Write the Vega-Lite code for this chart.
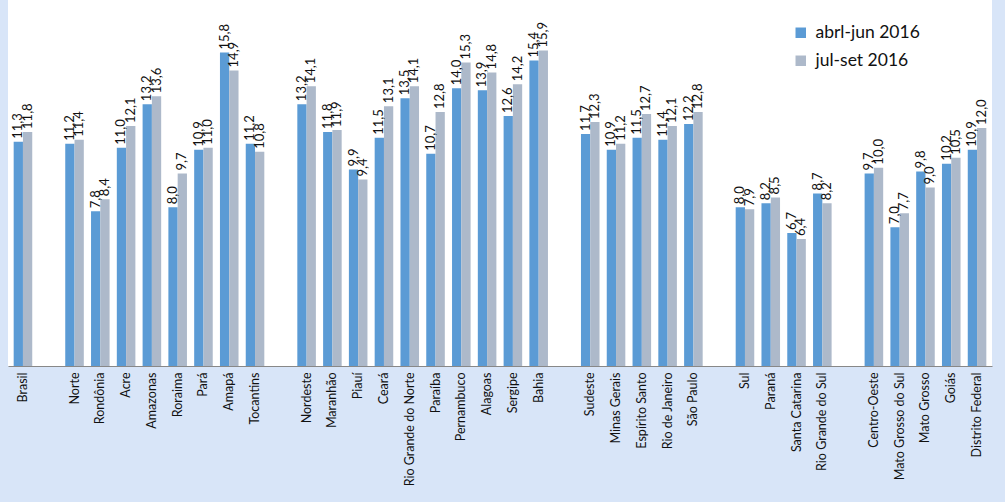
{
  "$schema": "https://vega.github.io/schema/vega-lite/v6.json",
  "width": 984,
  "height": 366,
  "autosize": {"type": "none"},
  "padding": {"left": 8, "top": 0, "right": 13, "bottom": 136},
  "background": "#d8e5f8",
  "config": {
    "view": {"fill": "#ffffff", "stroke": null},
    "locale": {"number": {"decimal": ",", "thousands": ".", "grouping": [3], "currency": ["R$", ""]}},
    "font": "Lato"
  },
  "data": {
    "values": [
      {"local": "Brasil", "periodo": "abrl-jun 2016", "taxa": 11.3},
      {"local": "Brasil", "periodo": "jul-set 2016", "taxa": 11.8},
      {"local": "Norte", "periodo": "abrl-jun 2016", "taxa": 11.2},
      {"local": "Norte", "periodo": "jul-set 2016", "taxa": 11.4},
      {"local": "Rondônia", "periodo": "abrl-jun 2016", "taxa": 7.8},
      {"local": "Rondônia", "periodo": "jul-set 2016", "taxa": 8.4},
      {"local": "Acre", "periodo": "abrl-jun 2016", "taxa": 11.0},
      {"local": "Acre", "periodo": "jul-set 2016", "taxa": 12.1},
      {"local": "Amazonas", "periodo": "abrl-jun 2016", "taxa": 13.2},
      {"local": "Amazonas", "periodo": "jul-set 2016", "taxa": 13.6},
      {"local": "Roraima", "periodo": "abrl-jun 2016", "taxa": 8.0},
      {"local": "Roraima", "periodo": "jul-set 2016", "taxa": 9.7},
      {"local": "Pará", "periodo": "abrl-jun 2016", "taxa": 10.9},
      {"local": "Pará", "periodo": "jul-set 2016", "taxa": 11.0},
      {"local": "Amapá", "periodo": "abrl-jun 2016", "taxa": 15.8},
      {"local": "Amapá", "periodo": "jul-set 2016", "taxa": 14.9},
      {"local": "Tocantins", "periodo": "abrl-jun 2016", "taxa": 11.2},
      {"local": "Tocantins", "periodo": "jul-set 2016", "taxa": 10.8},
      {"local": "Nordeste", "periodo": "abrl-jun 2016", "taxa": 13.2},
      {"local": "Nordeste", "periodo": "jul-set 2016", "taxa": 14.1},
      {"local": "Maranhão", "periodo": "abrl-jun 2016", "taxa": 11.8},
      {"local": "Maranhão", "periodo": "jul-set 2016", "taxa": 11.9},
      {"local": "Piauí", "periodo": "abrl-jun 2016", "taxa": 9.9},
      {"local": "Piauí", "periodo": "jul-set 2016", "taxa": 9.4},
      {"local": "Ceará", "periodo": "abrl-jun 2016", "taxa": 11.5},
      {"local": "Ceará", "periodo": "jul-set 2016", "taxa": 13.1},
      {"local": "Rio Grande do Norte", "periodo": "abrl-jun 2016", "taxa": 13.5},
      {"local": "Rio Grande do Norte", "periodo": "jul-set 2016", "taxa": 14.1},
      {"local": "Paraíba", "periodo": "abrl-jun 2016", "taxa": 10.7},
      {"local": "Paraíba", "periodo": "jul-set 2016", "taxa": 12.8},
      {"local": "Pernambuco", "periodo": "abrl-jun 2016", "taxa": 14.0},
      {"local": "Pernambuco", "periodo": "jul-set 2016", "taxa": 15.3},
      {"local": "Alagoas", "periodo": "abrl-jun 2016", "taxa": 13.9},
      {"local": "Alagoas", "periodo": "jul-set 2016", "taxa": 14.8},
      {"local": "Sergipe", "periodo": "abrl-jun 2016", "taxa": 12.6},
      {"local": "Sergipe", "periodo": "jul-set 2016", "taxa": 14.2},
      {"local": "Bahia", "periodo": "abrl-jun 2016", "taxa": 15.4},
      {"local": "Bahia", "periodo": "jul-set 2016", "taxa": 15.9},
      {"local": "Sudeste", "periodo": "abrl-jun 2016", "taxa": 11.7},
      {"local": "Sudeste", "periodo": "jul-set 2016", "taxa": 12.3},
      {"local": "Minas Gerais", "periodo": "abrl-jun 2016", "taxa": 10.9},
      {"local": "Minas Gerais", "periodo": "jul-set 2016", "taxa": 11.2},
      {"local": "Espírito Santo", "periodo": "abrl-jun 2016", "taxa": 11.5},
      {"local": "Espírito Santo", "periodo": "jul-set 2016", "taxa": 12.7},
      {"local": "Rio de Janeiro", "periodo": "abrl-jun 2016", "taxa": 11.4},
      {"local": "Rio de Janeiro", "periodo": "jul-set 2016", "taxa": 12.1},
      {"local": "São Paulo", "periodo": "abrl-jun 2016", "taxa": 12.2},
      {"local": "São Paulo", "periodo": "jul-set 2016", "taxa": 12.8},
      {"local": "Sul", "periodo": "abrl-jun 2016", "taxa": 8.0},
      {"local": "Sul", "periodo": "jul-set 2016", "taxa": 7.9},
      {"local": "Paraná", "periodo": "abrl-jun 2016", "taxa": 8.2},
      {"local": "Paraná", "periodo": "jul-set 2016", "taxa": 8.5},
      {"local": "Santa Catarina", "periodo": "abrl-jun 2016", "taxa": 6.7},
      {"local": "Santa Catarina", "periodo": "jul-set 2016", "taxa": 6.4},
      {"local": "Rio Grande do Sul", "periodo": "abrl-jun 2016", "taxa": 8.7},
      {"local": "Rio Grande do Sul", "periodo": "jul-set 2016", "taxa": 8.2},
      {"local": "Centro-Oeste", "periodo": "abrl-jun 2016", "taxa": 9.7},
      {"local": "Centro-Oeste", "periodo": "jul-set 2016", "taxa": 10.0},
      {"local": "Mato Grosso do Sul", "periodo": "abrl-jun 2016", "taxa": 7.0},
      {"local": "Mato Grosso do Sul", "periodo": "jul-set 2016", "taxa": 7.7},
      {"local": "Mato Grosso", "periodo": "abrl-jun 2016", "taxa": 9.8},
      {"local": "Mato Grosso", "periodo": "jul-set 2016", "taxa": 9.0},
      {"local": "Goiás", "periodo": "abrl-jun 2016", "taxa": 10.2},
      {"local": "Goiás", "periodo": "jul-set 2016", "taxa": 10.5},
      {"local": "Distrito Federal", "periodo": "abrl-jun 2016", "taxa": 10.9},
      {"local": "Distrito Federal", "periodo": "jul-set 2016", "taxa": 12.0}
    ]
  },
  "encoding": {
    "x": {
      "field": "local",
      "type": "nominal",
      "scale": {
        "domain": ["Brasil", "_1", "Norte", "Rondônia", "Acre", "Amazonas", "Roraima", "Pará", "Amapá", "Tocantins", "_2", "Nordeste", "Maranhão", "Piauí", "Ceará", "Rio Grande do Norte", "Paraíba", "Pernambuco", "Alagoas", "Sergipe", "Bahia", "_3", "Sudeste", "Minas Gerais", "Espírito Santo", "Rio de Janeiro", "São Paulo", "_4", "Sul", "Paraná", "Santa Catarina", "Rio Grande do Sul", "_5", "Centro-Oeste", "Mato Grosso do Sul", "Mato Grosso", "Goiás", "Distrito Federal"],
        "paddingInner": 0.28,
        "paddingOuter": 0.22
      },
      "axis": {
        "title": null,
        "labelAngle": -90,
        "labelAlign": "right",
        "labelBaseline": "middle",
        "labelFontSize": 12.5,
        "labelColor": "#111111",
        "labelPadding": 6,
        "labelExpr": "indexof(datum.value, '_') == 0 ? '' : datum.value",
        "ticks": false,
        "domainColor": "#888888",
        "domainWidth": 1.2
      }
    },
    "xOffset": {"field": "periodo", "type": "nominal"},
    "y": {
      "field": "taxa",
      "type": "quantitative",
      "scale": {"domain": [0, 18.45], "nice": false},
      "axis": null
    }
  },
  "layer": [
    {
      "mark": {"type": "bar"},
      "encoding": {
        "color": {
          "field": "periodo",
          "type": "nominal",
          "scale": {"domain": ["abrl-jun 2016", "jul-set 2016"], "range": ["#5b9bd5", "#adb9ca"]},
          "legend": {
            "title": null,
            "orient": "none",
            "legendX": 784,
            "legendY": 24,
            "symbolType": "square",
            "symbolSize": 110,
            "symbolStrokeWidth": 0,
            "labelFontSize": 17.5,
            "labelColor": "#111111",
            "rowPadding": 9,
            "labelOffset": 6
          }
        }
      }
    },
    {
      "mark": {"type": "text", "angle": -90, "align": "left", "baseline": "middle", "dx": 3, "fontSize": 13, "color": "#111111"},
      "encoding": {
        "text": {"field": "taxa", "type": "quantitative", "format": ".1f"}
      }
    }
  ]
}
